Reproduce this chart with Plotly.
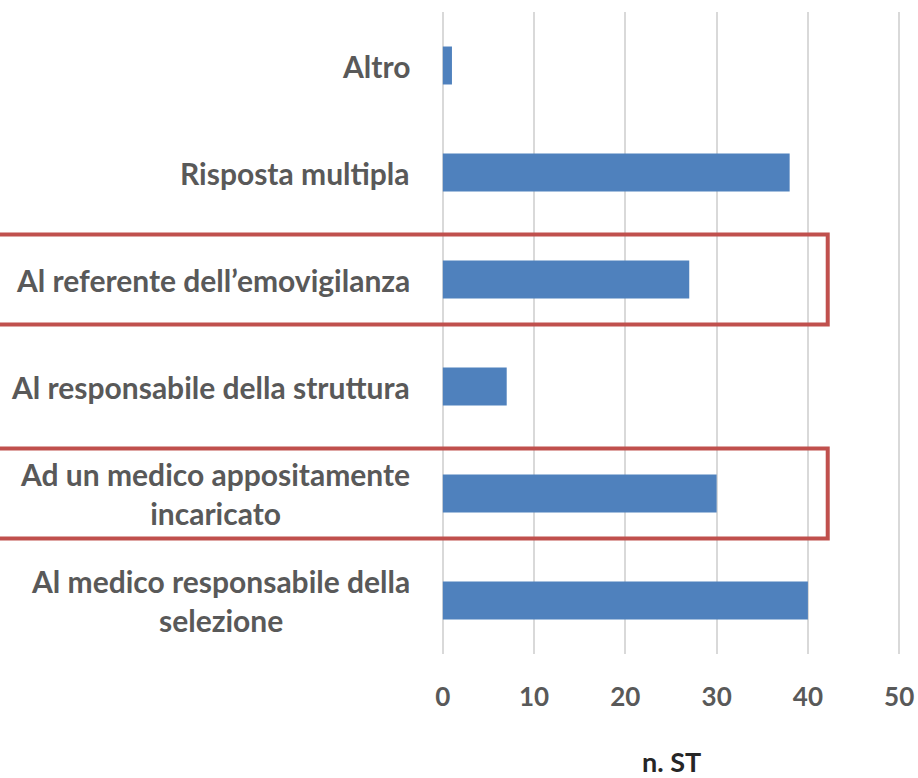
import plotly.graph_objects as go

# ── Data ────────────────────────────────────────────────────────────────────
categories = [
    "Al medico responsabile della<br>selezione",
    "Ad un medico appositamente<br>incaricato",
    "Al responsabile della struttura",
    "Al referente dell’emovigilanza",
    "Risposta multipla",
    "Altro",
]
values = [40, 30, 7, 27, 38, 1]
highlighted = ["Al referente dell’emovigilanza", "Ad un medico appositamente<br>incaricato"]
x_ticks = [0, 10, 20, 30, 40, 50]
x_title = "n. ST"

BAR_COL = "#4f81bd"
TXT_COL = "#595959"
GRID_COL = "#d9d9d9"
BOX_COL = "#c0504d"
FONT = "Lato"

fig = go.Figure(go.Bar(
    y=categories, x=values, orientation="h",
    marker=dict(color=BAR_COL, line=dict(width=0)),
    width=0.355,
))

# category labels (centred multi-line, like the original)
for c in categories:
    fig.add_annotation(
        x=-0.063, xref="paper", y=c, yref="y",
        text=c, showarrow=False, xanchor="right", align="center",
        font=dict(family=FONT, size=30, color=TXT_COL, weight="bold"),
    )

# axis title placed as annotation (axis title gets squeezed by the margin)
fig.add_annotation(
    x=0.5, xref="paper", y=-0.168, yref="paper", yanchor="middle",
    text=x_title, showarrow=False,
    font=dict(family=FONT, size=27, color="#262626", weight="bold"),
)

# red boxes around highlighted categories
for c in highlighted:
    i = categories.index(c)
    fig.add_shape(
        type="rect", xref="paper", yref="y",
        x0=-0.98, x1=0.8407, y0=i - 0.42, y1=i + 0.42,
        line=dict(color=BOX_COL, width=4), fillcolor="rgba(0,0,0,0)",
        layer="above",
    )

fig.update_layout(
    width=918, height=778,
    paper_bgcolor="white", plot_bgcolor="white",
    margin=dict(l=441, r=17, t=12, b=124),
    showlegend=False,
    font=dict(family=FONT, color=TXT_COL),
    xaxis=dict(
        range=[-0.2, 50.2], tickvals=x_ticks, showgrid=True, gridcolor=GRID_COL, gridwidth=1.5,
        zeroline=False, showline=False, automargin=False,
        tickfont=dict(family=FONT, size=26, color=TXT_COL, weight="bold"),
        ticklabelstandoff=25,
    ),
    yaxis=dict(showticklabels=False, showgrid=False, zeroline=False, showline=False,
               automargin=False, range=[-0.5, 5.5]),
)

fig.write_html("out.html", config={"displayModeBar": False},
               post_script="document.body.style.margin='0';")
